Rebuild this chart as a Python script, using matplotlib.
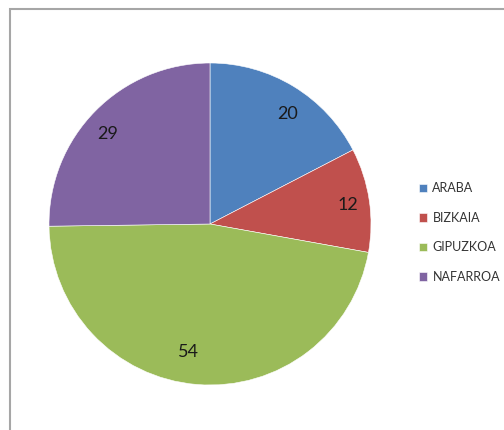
import matplotlib.pyplot as plt
from matplotlib.patches import Rectangle

# Data
labels = ['ARABA', 'BIZKAIA', 'GIPUZKOA', 'NAFARROA']
values = [20, 12, 54, 29]
colors = ['#4F81BD', '#C0504D', '#9BBB59', '#8064A2']

W, H = 504, 430
fig = plt.figure(figsize=(W / 100, H / 100), dpi=100)

# chart border (gray frame)
fig.patches.append(Rectangle((10 / W, -0.1), 1.2, (H - 9) / H + 0.1,
                             transform=fig.transFigure, fill=False,
                             edgecolor='#A6A6A6', linewidth=1.5))

# pie axes: centre (210, 224) px, radius 161 px
cx, cy, r = 210, 224, 161
ax = fig.add_axes([(cx - r) / W, (H - cy - r) / H, 2 * r / W, 2 * r / H])
wedges, texts = ax.pie(values, colors=colors, startangle=90, counterclock=False,
                       labels=[str(v) for v in values], labeldistance=0.8,
                       wedgeprops=dict(edgecolor='white', linewidth=0.4),
                       textprops=dict(fontsize=13, color='#1a1a1a', family='Lato'))
ax.set_xlim(-1, 1)
ax.set_ylim(-1, 1)
ax.set_aspect('auto')

# legend
leg = fig.legend(wedges, labels, loc='upper left',
                 bbox_to_anchor=(408 / W, 1 - 171 / H), frameon=False,
                 prop=dict(family='Lato', size=9),
                 handlelength=0.65, handleheight=0.65, handletextpad=0.4,
                 labelspacing=1.4, labelcolor='#333333')

fig.savefig('out.png', dpi=100)
